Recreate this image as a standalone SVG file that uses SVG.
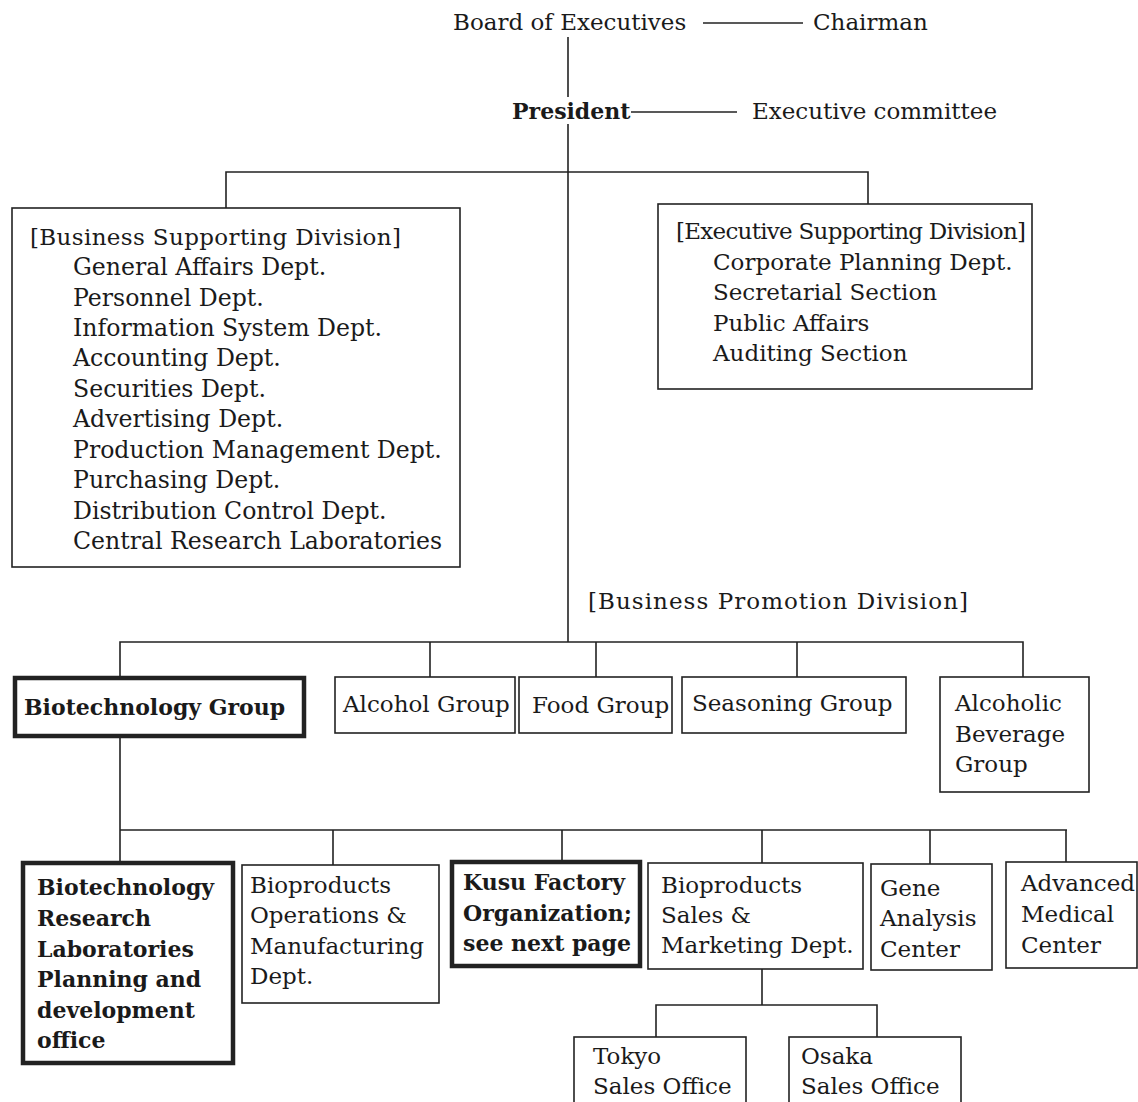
<svg xmlns="http://www.w3.org/2000/svg" width="1138" height="1102" viewBox="0 0 1138 1102">
<style>
.t{font-family:"DejaVu Serif","Liberation Serif",serif;font-size:23px;fill:#1a1a1a}
.w{font-size:23.6px}
.b{font-weight:bold;font-size:22px}
.box{fill:#fff;stroke:#222;stroke-width:1.6}
.thick{fill:#fff;stroke:#222;stroke-width:4.5}
.ln{stroke:#222;stroke-width:1.6;fill:none}
</style>
<rect width="1138" height="1102" fill="#fff"/>
<g id="connectors">
<path class="ln" d="M568 37V97"/>
<path class="ln" d="M703 23H803"/>
<path class="ln" d="M631 112H737"/>
<path class="ln" d="M568 124V642"/>
<path class="ln" d="M226 208V172H868V204"/>
<path class="ln" d="M120 676V642H1023V677M430 642V677M596 642V677M797 642V677"/>
<path class="ln" d="M120 737V830H1067M120 830V862M333 830V865M562 830V861M762 830V863M930 830V864M1066 830V862"/>
<path class="ln" d="M762 969V1005M656 1037V1005H877V1037"/>
</g>
<g id="board"><text class="t" x="453" y="30">Board of Executives</text></g>
<g id="chairman"><text class="t" x="813" y="30">Chairman</text></g>
<g id="president"><text class="t b" x="512" y="119">President</text></g>
<g id="exec-committee"><text class="t" x="752" y="119">Executive committee</text></g>
<g id="business-supporting">
<rect class="box" x="12" y="208" width="448" height="359"/>
<text class="t" x="30" y="245" textLength="371">[Business Supporting Division]</text>
<text class="t w" x="73" y="275">General Affairs Dept.</text>
<text class="t w" x="73" y="306">Personnel Dept.</text>
<text class="t w" x="73" y="336">Information System Dept.</text>
<text class="t w" x="73" y="366">Accounting Dept.</text>
<text class="t w" x="73" y="397">Securities Dept.</text>
<text class="t w" x="73" y="427">Advertising Dept.</text>
<text class="t w" x="73" y="458">Production Management Dept.</text>
<text class="t w" x="73" y="488">Purchasing Dept.</text>
<text class="t w" x="73" y="519">Distribution Control Dept.</text>
<text class="t w" x="73" y="549">Central Research Laboratories</text>
</g>
<g id="executive-supporting">
<rect class="box" x="658" y="204" width="374" height="185"/>
<text class="t" x="676" y="239" textLength="350">[Executive Supporting Division]</text>
<text class="t" x="713" y="270">Corporate Planning Dept.</text>
<text class="t" x="713" y="300">Secretarial Section</text>
<text class="t" x="713" y="331">Public Affairs</text>
<text class="t" x="713" y="361">Auditing Section</text>
</g>
<g id="business-promotion"><text class="t" x="588" y="609" textLength="380">[Business Promotion Division]</text></g>
<g id="biotech-group">
<rect class="thick" x="15" y="678" width="289" height="58"/>
<text class="t b" x="24" y="715">Biotechnology Group</text>
</g>
<g id="alcohol-group">
<rect class="box" x="335" y="677" width="180" height="56"/>
<text class="t" x="343" y="712">Alcohol Group</text>
</g>
<g id="food-group">
<rect class="box" x="519" y="677" width="153" height="56"/>
<text class="t" x="532" y="713">Food Group</text>
</g>
<g id="seasoning-group">
<rect class="box" x="682" y="677" width="224" height="56"/>
<text class="t" x="692" y="711">Seasoning Group</text>
</g>
<g id="alcoholic-beverage-group">
<rect class="box" x="940" y="677" width="149" height="115"/>
<text class="t" x="955" y="711">Alcoholic</text>
<text class="t" x="955" y="742">Beverage</text>
<text class="t" x="955" y="772">Group</text>
</g>
<g id="biotech-research">
<rect class="thick" x="23" y="863" width="210" height="200"/>
<text class="t b" x="37" y="895">Biotechnology</text>
<text class="t b" x="37" y="926">Research</text>
<text class="t b" x="37" y="957">Laboratories</text>
<text class="t b" x="37" y="987">Planning and</text>
<text class="t b" x="37" y="1018">development</text>
<text class="t b" x="37" y="1048">office</text>
</g>
<g id="bioproducts-ops">
<rect class="box" x="242" y="865" width="197" height="138"/>
<text class="t" x="250" y="893">Bioproducts</text>
<text class="t" x="250" y="923">Operations &amp;</text>
<text class="t" x="250" y="954">Manufacturing</text>
<text class="t" x="250" y="984">Dept.</text>
</g>
<g id="kusu-factory">
<rect class="thick" x="452" y="862" width="188" height="104"/>
<text class="t b" x="463" y="890">Kusu Factory</text>
<text class="t b" x="463" y="921">Organization;</text>
<text class="t b" x="463" y="951">see next page</text>
</g>
<g id="bioproducts-sales">
<rect class="box" x="648" y="863" width="215" height="106"/>
<text class="t" x="661" y="893">Bioproducts</text>
<text class="t" x="661" y="923">Sales &amp;</text>
<text class="t" x="661" y="953">Marketing Dept.</text>
</g>
<g id="gene-analysis">
<rect class="box" x="871" y="864" width="121" height="106"/>
<text class="t" x="880" y="896">Gene</text>
<text class="t" x="880" y="926">Analysis</text>
<text class="t" x="880" y="957">Center</text>
</g>
<g id="advanced-medical">
<rect class="box" x="1006" y="862" width="131" height="106"/>
<text class="t" x="1021" y="891">Advanced</text>
<text class="t" x="1021" y="922">Medical</text>
<text class="t" x="1021" y="953">Center</text>
</g>
<g id="tokyo-sales">
<rect class="box" x="574" y="1037" width="172" height="80"/>
<text class="t" x="593" y="1064">Tokyo</text>
<text class="t" x="593" y="1094">Sales Office</text>
</g>
<g id="osaka-sales">
<rect class="box" x="789" y="1037" width="172" height="80"/>
<text class="t" x="801" y="1064">Osaka</text>
<text class="t" x="801" y="1094">Sales Office</text>
</g>
</svg>
